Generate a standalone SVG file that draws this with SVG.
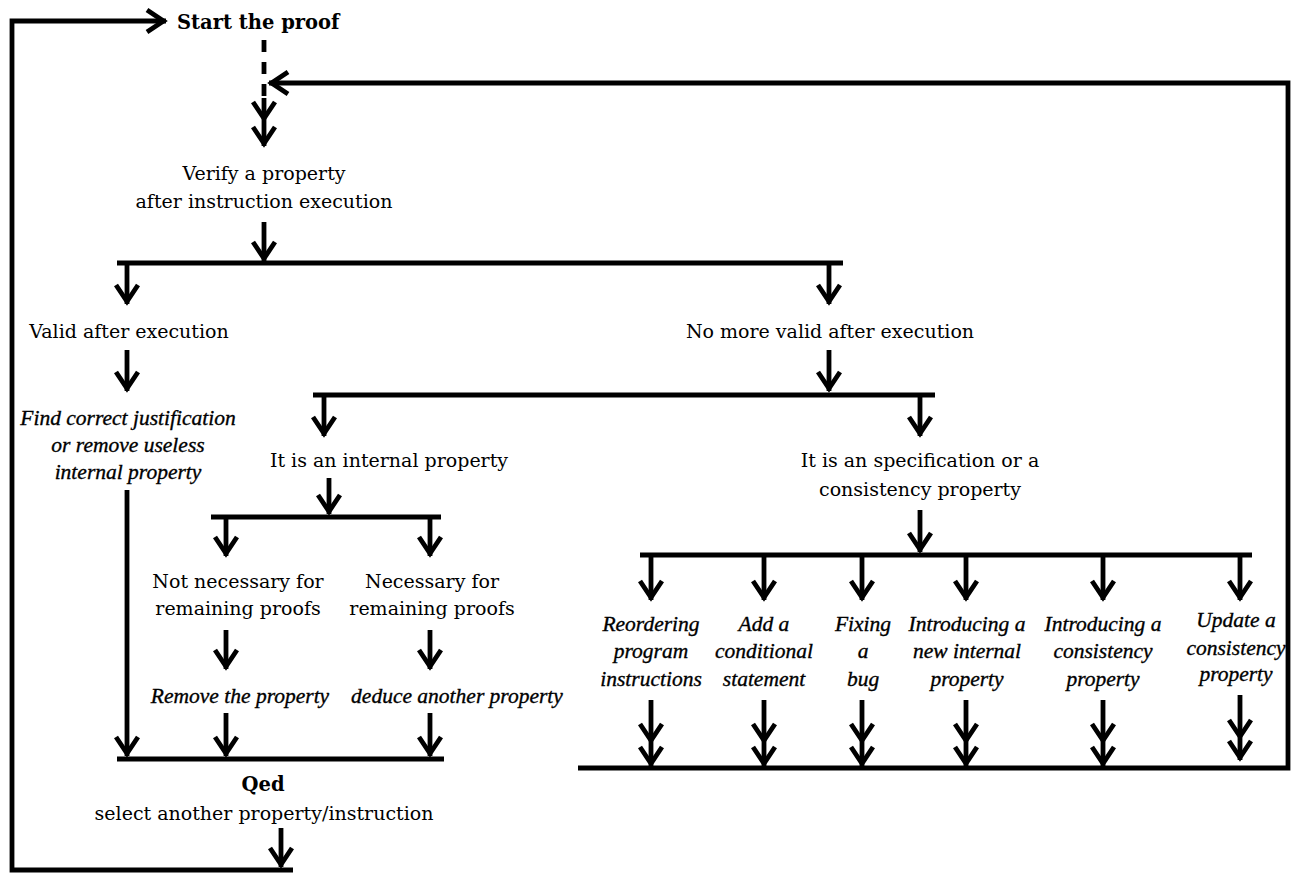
<svg xmlns="http://www.w3.org/2000/svg" width="1301" height="874" viewBox="0 0 1301 874">
<style>
.ln{stroke:#000;stroke-width:4.8;fill:none;stroke-linejoin:miter}
.ar{marker-end:url(#ah)}
.dbl{marker-mid:url(#ah);marker-end:url(#ah)}
.t{font-family:"DejaVu Serif",serif;font-size:19px;text-anchor:middle;fill:#000}
.i{font-family:"Liberation Serif",serif;font-style:italic;font-size:21.5px;text-anchor:middle;fill:#000;stroke:#000;stroke-width:0.35}
.b{font-family:"DejaVu Serif",serif;font-weight:bold;font-size:19.5px;fill:#000}
</style>
<defs>
<marker id="ah" markerUnits="userSpaceOnUse" viewBox="-30 -20 40 40" markerWidth="40" markerHeight="40" refX="0" refY="0" orient="auto" overflow="visible">
<path d="M-19,-11 L-2.5,0 L-19,11" fill="none" stroke="#000" stroke-width="4.8" stroke-miterlimit="10"/>
</marker>
</defs>
<rect width="1301" height="874" fill="#fff"/>
<g id="connectors">
<path class="ln ar" d="M293,870 H12 V21 H166"/>
<path class="ln" d="M264,40 V98" stroke-dasharray="12 10"/>
<path class="ln ar" d="M578,768 H1288 V83 H269"/>
<polyline class="ln dbl" points="264,98 264,121 264,146"/>
<path class="ln ar" d="M264,222 V261"/>
<path class="ln" d="M117,263 H843"/>
<path class="ln ar" d="M127,263 V304"/>
<path class="ln ar" d="M829,263 V304"/>
<path class="ln ar" d="M127,350 V391"/>
<path class="ln ar" d="M829,350 V391"/>
<path class="ln" d="M313,395 H935"/>
<path class="ln ar" d="M324,395 V436"/>
<path class="ln ar" d="M920,395 V436"/>
<path class="ln ar" d="M127,490 V756"/>
<path class="ln ar" d="M329,478 V514"/>
<path class="ln" d="M211,517 H441"/>
<path class="ln ar" d="M226,517 V556"/>
<path class="ln ar" d="M430,517 V556"/>
<path class="ln ar" d="M226,630 V669"/>
<path class="ln ar" d="M430,630 V669"/>
<path class="ln ar" d="M226,713 V756"/>
<path class="ln ar" d="M430,713 V756"/>
<path class="ln" d="M117,759 H444"/>
<path class="ln ar" d="M281,828 V867"/>
<path class="ln ar" d="M920,510 V552"/>
<path class="ln" d="M640,555 H1252"/>
<path class="ln ar" d="M651,555 V600"/>
<path class="ln ar" d="M764,555 V600"/>
<path class="ln ar" d="M862,555 V600"/>
<path class="ln ar" d="M966,555 V600"/>
<path class="ln ar" d="M1103,555 V600"/>
<path class="ln ar" d="M1240,555 V600"/>
<polyline class="ln dbl" points="651,700 651,743 651,766"/>
<polyline class="ln dbl" points="764,700 764,743 764,766"/>
<polyline class="ln dbl" points="862,700 862,743 862,766"/>
<polyline class="ln dbl" points="966,700 966,743 966,766"/>
<polyline class="ln dbl" points="1103,700 1103,743 1103,766"/>
<polyline class="ln dbl" points="1240,695 1240,739 1240,760"/>
</g>
<g id="start"><text class="b" x="177" y="29">Start the proof</text></g>
<g id="verify"><text class="t" x="264" y="180">Verify a property</text><text class="t" x="264" y="208">after instruction execution</text></g>
<g id="valid"><text class="t" x="129" y="338">Valid after execution</text></g>
<g id="novalid"><text class="t" x="830" y="338">No more valid after execution</text></g>
<g id="findjust"><text class="i" x="128" y="425">Find correct justification</text><text class="i" x="128" y="452">or remove useless</text><text class="i" x="128" y="479">internal property</text></g>
<g id="internal"><text class="t" x="389" y="467">It is an internal property</text></g>
<g id="spec"><text class="t" x="920" y="467">It is an specification or a</text><text class="t" x="920" y="496">consistency property</text></g>
<g id="notnec"><text class="t" x="238" y="588">Not necessary for</text><text class="t" x="238" y="615">remaining proofs</text></g>
<g id="nec"><text class="t" x="432" y="588">Necessary for</text><text class="t" x="432" y="615">remaining proofs</text></g>
<g id="remove"><text class="i" x="240" y="703">Remove the property</text></g>
<g id="deduce"><text class="i" x="457" y="703">deduce another property</text></g>
<g id="qed"><text class="b" x="263" y="791" text-anchor="middle" font-size="20px">Qed</text><text class="t" x="264" y="820">select another property/instruction</text></g>
<g id="reorder"><text class="i" x="651" y="631">Reordering</text><text class="i" x="651" y="658">program</text><text class="i" x="651" y="686">instructions</text></g>
<g id="addcond"><text class="i" x="764" y="631">Add a</text><text class="i" x="764" y="658">conditional</text><text class="i" x="764" y="686">statement</text></g>
<g id="fixbug"><text class="i" x="863" y="631">Fixing</text><text class="i" x="863" y="658">a</text><text class="i" x="863" y="686">bug</text></g>
<g id="newinternal"><text class="i" x="967" y="631">Introducing a</text><text class="i" x="967" y="658">new internal</text><text class="i" x="967" y="686">property</text></g>
<g id="introcons"><text class="i" x="1103" y="631">Introducing a</text><text class="i" x="1103" y="658">consistency</text><text class="i" x="1103" y="686">property</text></g>
<g id="updatecons"><text class="i" x="1236" y="627">Update a</text><text class="i" x="1236" y="655">consistency</text><text class="i" x="1236" y="681">property</text></g>
</svg>
